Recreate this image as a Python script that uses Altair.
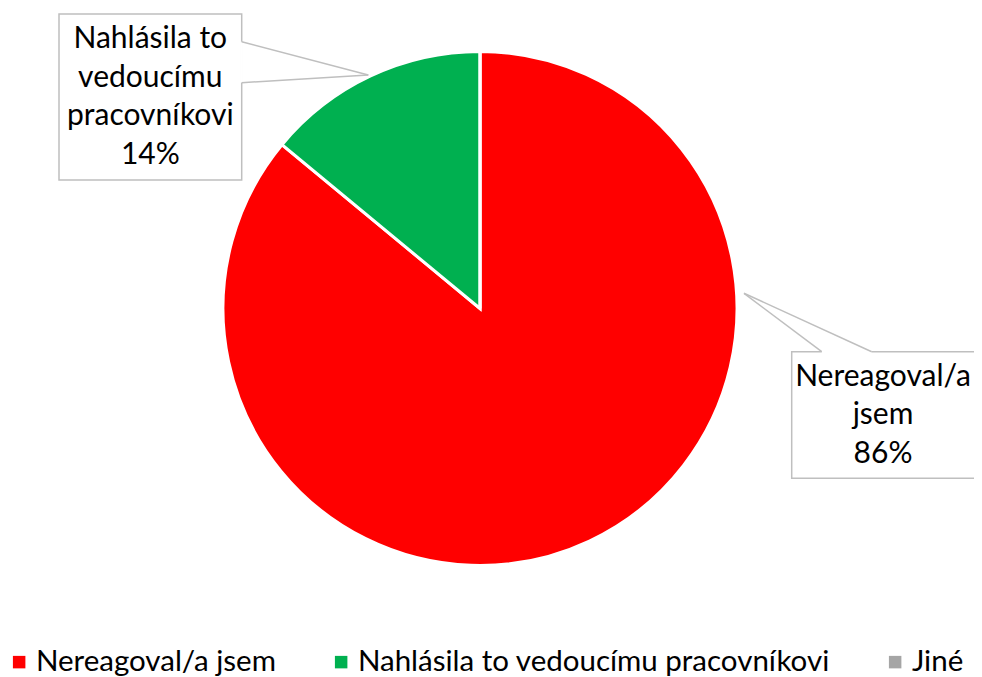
import altair as alt
import pandas as pd

# ---- data ----
categories = ["Nereagoval/a jsem", "Nahlásila to vedoucímu pracovníkovi", "Jiné"]
values = [86, 14, 0]
colors = ["#FF0000", "#00B050", "#A5A5A5"]
label_lines = [["Nereagoval/a", "jsem"], ["Nahlásila to", "vedoucímu", "pracovníkovi"], []]

# ---- layout (pixels, chart coordinates) ----
W, H = 966, 669
FONT = "Lato"
LINE_H = 38.5
PIE_CX, PIE_CY, PIE_R = 472, 300.5, 257
# callout boxes: (left, top, right, bottom), text centre x, pointer base points and tip
callout_layout = {
    "Nahlásila to vedoucímu pracovníkovi": dict(x0=51, y0=6, x1=233.7, y1=172, cx=142.3,
                                                 ax=233.7, ay=33.7, bx=233.7, by=74.7, tx=360.3, ty=67),
    "Nereagoval/a jsem": dict(x0=783.7, y0=343.7, x1=980, y1=470.3, cx=875,
                              ax=813.7, ay=343.7, bx=863.7, by=343.7, tx=736, ty=285.3),
}

df = pd.DataFrame({"category": categories, "value": values, "idx": list(range(len(categories)))})

pie = alt.Chart(df).mark_arc(radius=PIE_R, stroke="white", strokeWidth=3).encode(
    theta=alt.Theta("value:Q", stack=True),
    order=alt.Order("idx:Q"),
    color=alt.Color(
        "category:N",
        scale=alt.Scale(domain=categories, range=colors),
        sort=categories,
        legend=alt.Legend(
            title=None, orient="none", direction="horizontal",
            legendX=-3.6, legendY=639, padding=0,
            symbolType="square", symbolSize=156, symbolStrokeWidth=0,
            labelFont=FONT, labelFontSize=29.5, labelColor="#000000",
            labelLimit=0, columnPadding=50, symbolOffset=0, labelOffset=2,
        ),
    ),
    x=alt.value(PIE_CX),
    y=alt.value(PIE_CY),
)

rows = []
total = sum(values)
for c, v, lines in zip(categories, values, label_lines):
    if c not in callout_layout:
        continue
    lay = callout_layout[c]
    pct = f"{round(100 * v / total)}%"
    all_lines = lines + [pct]
    cy = (lay["y0"] + lay["y1"]) / 2 - (len(all_lines) - 1) / 2 * LINE_H
    rows.append(dict(category=c, text="\n".join(all_lines), cy=cy, **lay))
cdf = pd.DataFrame(rows)

boxes = alt.Chart(cdf).mark_rect(fill="white", stroke="#BFBFBF", strokeWidth=1.5).encode(
    x=alt.X("x0:Q", scale=None), x2="x1:Q",
    y=alt.Y("y0:Q", scale=None), y2="y1:Q",
)
gap = alt.Chart(cdf).mark_rule(color="white", strokeWidth=2.5).encode(
    x=alt.X("ax:Q", scale=None), x2="bx:Q",
    y=alt.Y("ay:Q", scale=None), y2="by:Q",
)
ptr_a = alt.Chart(cdf).mark_rule(color="#BFBFBF", strokeWidth=1.5).encode(
    x=alt.X("ax:Q", scale=None), x2="tx:Q",
    y=alt.Y("ay:Q", scale=None), y2="ty:Q",
)
ptr_b = alt.Chart(cdf).mark_rule(color="#BFBFBF", strokeWidth=1.5).encode(
    x=alt.X("bx:Q", scale=None), x2="tx:Q",
    y=alt.Y("by:Q", scale=None), y2="ty:Q",
)
texts = alt.Chart(cdf).mark_text(
    font=FONT, fontSize=30, lineHeight=LINE_H, lineBreak="\n",
    align="center", baseline="middle", color="#000000",
).encode(
    x=alt.X("cx:Q", scale=None),
    y=alt.Y("cy:Q", scale=None),
    text="text:N",
)

chart = alt.layer(pie, boxes, gap, ptr_a, ptr_b, texts).properties(
    width=W, height=H, padding=0, autosize="none"
).configure_view(stroke=None)

chart.save("out.html", embed_options={"renderer": "svg", "actions": False})
